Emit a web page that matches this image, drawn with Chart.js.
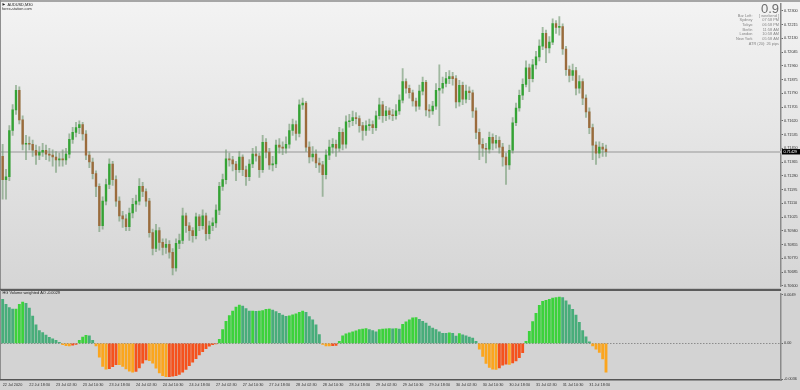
<!DOCTYPE html>
<html><head><meta charset="utf-8">
<script src="https://cdn.jsdelivr.net/npm/chart.js@4.4.1/dist/chart.umd.min.js"></script>
<style>
html,body{margin:0;padding:0;background:#d3d3d3;width:800px;height:390px;overflow:hidden}
#main{position:absolute;left:0;top:0}
#ind{position:absolute;left:0;top:290px}
</style></head><body>
<canvas id="main" width="800" height="290"></canvas>
<canvas id="ind" width="800" height="100"></canvas>
<script>
const symbolTitle = 'AUDUSD,M30';
const brandText = 'forex-station.com';
const indicatorTitle = 'HG Volume weighted AO -0.0029';
const infoBig = '0.9';
const infoRows = [['Bar Left:','[ weekend ]'],['Sydney','07:58 PM'],['Tokyo','06:58 PM'],['Berlin','11:58 AM'],['London','10:58 AM'],['New York','05:58 AM']];
const atrText = 'ATR (20): 26 pips';

const xTickLabels = ['22 Jul 2020','22 Jul 18:30','23 Jul 02:30','23 Jul 10:30','23 Jul 18:30','24 Jul 02:30','24 Jul 10:30','24 Jul 18:30','27 Jul 02:30','27 Jul 10:30','27 Jul 18:30','28 Jul 02:30','28 Jul 10:30','28 Jul 18:30','29 Jul 02:30','29 Jul 10:30','29 Jul 18:30','30 Jul 02:30','30 Jul 10:30','30 Jul 18:30','31 Jul 02:30','31 Jul 10:30','31 Jul 18:30'];
const barsPerLabel = 8;
const totalSlots = 234;

const opens = [0.71400,0.71256,0.71274,0.71560,0.71687,0.71809,0.71626,0.71475,0.71481,0.71475,
0.71438,0.71408,0.71426,0.71438,0.71414,0.71408,0.71396,0.71378,0.71384,0.71378,
0.71414,0.71505,0.71548,0.71578,0.71596,0.71538,0.71408,0.71365,0.71293,0.71214,
0.70971,0.71123,0.71226,0.71353,0.71256,0.71123,0.71032,0.71013,0.70965,0.71050,
0.71104,0.71123,0.71214,0.71183,0.71123,0.70928,0.70831,0.70941,0.70868,0.70837,
0.70856,0.70807,0.70710,0.70862,0.70880,0.71032,0.70971,0.70941,0.70910,0.71026,
0.70971,0.71032,0.70922,0.70971,0.70989,0.71068,0.71214,0.71256,0.71384,0.71378,
0.71353,0.71317,0.71396,0.71317,0.71274,0.71353,0.71414,0.71402,0.71317,0.71487,
0.71426,0.71347,0.71353,0.71469,0.71457,0.71450,0.71475,0.71560,0.71596,0.71542,
0.71718,0.71730,0.71457,0.71396,0.71414,0.71359,0.71347,0.71287,0.71408,0.71457,
0.71475,0.71450,0.71548,0.71475,0.71614,0.71620,0.71639,0.71633,0.71590,0.71560,
0.71590,0.71596,0.71578,0.71651,0.71718,0.71651,0.71681,0.71657,0.71651,0.71681,
0.71748,0.71863,0.71821,0.71793,0.71742,0.71711,0.71803,0.71857,0.71687,0.71681,
0.71711,0.71809,0.71821,0.71851,0.71881,0.71894,0.71881,0.71736,0.71839,0.71754,
0.71803,0.71793,0.71681,0.71548,0.71475,0.71450,0.71444,0.71517,0.71481,0.71499,
0.71457,0.71396,0.71347,0.71438,0.71608,0.71699,0.71778,0.71845,0.71948,0.71881,
0.71966,0.72015,0.72082,0.72161,0.72070,0.72106,0.72221,0.72197,0.72203,0.72064,
0.71936,0.71900,0.71930,0.71821,0.71863,0.71760,0.71675,0.71578,0.71469,0.71420,
0.71457,0.71445];

const highs = [0.71475,0.71320,0.71590,0.71720,0.71839,0.71830,0.71650,0.71530,0.71520,0.71500,
0.71470,0.71460,0.71480,0.71470,0.71450,0.71440,0.71430,0.71420,0.71440,0.71450,
0.71540,0.71580,0.71610,0.71620,0.71610,0.71560,0.71430,0.71390,0.71310,0.71230,
0.71150,0.71260,0.71384,0.71370,0.71280,0.71150,0.71060,0.71040,0.71080,0.71140,
0.71160,0.71262,0.71240,0.71200,0.71140,0.70950,0.70980,0.70960,0.70890,0.70890,
0.70880,0.70830,0.70890,0.70920,0.71080,0.71050,0.70990,0.70960,0.71050,0.71040,
0.71070,0.71050,0.71000,0.71020,0.71100,0.71240,0.71290,0.71440,0.71420,0.71400,
0.71370,0.71430,0.71410,0.71340,0.71380,0.71450,0.71460,0.71420,0.71530,0.71510,
0.71450,0.71400,0.71500,0.71510,0.71490,0.71520,0.71600,0.71630,0.71620,0.71750,
0.71760,0.71740,0.71490,0.71460,0.71440,0.71390,0.71370,0.71440,0.71500,0.71510,
0.71500,0.71580,0.71570,0.71650,0.71660,0.71680,0.71670,0.71650,0.71610,0.71620,
0.71630,0.71620,0.71680,0.71760,0.71740,0.71710,0.71700,0.71690,0.71720,0.71780,
0.71942,0.71880,0.71840,0.71810,0.71760,0.71840,0.71890,0.71870,0.71720,0.71740,
0.71850,0.71966,0.71890,0.71920,0.71930,0.71920,0.71900,0.71870,0.71860,0.71840,
0.71830,0.71810,0.71700,0.71570,0.71510,0.71480,0.71550,0.71540,0.71530,0.71520,
0.71480,0.71420,0.71470,0.71640,0.71730,0.71810,0.71880,0.71990,0.71970,0.72000,
0.72050,0.72120,0.72197,0.72180,0.72140,0.72250,0.72240,0.72264,0.72220,0.72080,
0.71960,0.71970,0.71950,0.71900,0.71880,0.71780,0.71700,0.71600,0.71490,0.71490,
0.71480,0.71470];

const lows = [0.71135,0.71135,0.71250,0.71530,0.71660,0.71600,0.71440,0.71380,0.71440,0.71400,
0.71350,0.71380,0.71400,0.71380,0.71370,0.71340,0.71300,0.71340,0.71340,0.71350,
0.71390,0.71480,0.71520,0.71540,0.71500,0.71380,0.71330,0.71260,0.71150,0.70934,
0.70950,0.71100,0.71200,0.71220,0.71090,0.71000,0.70960,0.70940,0.70940,0.71020,
0.71060,0.71100,0.71150,0.71090,0.70900,0.70790,0.70810,0.70820,0.70790,0.70800,
0.70770,0.70667,0.70690,0.70830,0.70860,0.70930,0.70880,0.70870,0.70890,0.70940,
0.70950,0.70880,0.70890,0.70940,0.70960,0.71040,0.71190,0.71230,0.71340,0.71310,
0.71250,0.71300,0.71280,0.71220,0.71250,0.71330,0.71370,0.71270,0.71300,0.71390,
0.71320,0.71310,0.71330,0.71420,0.71410,0.71420,0.71450,0.71530,0.71500,0.71520,
0.71690,0.71430,0.71360,0.71370,0.71330,0.71300,0.71153,0.71260,0.71380,0.71420,
0.71400,0.71430,0.71440,0.71450,0.71580,0.71590,0.71600,0.71550,0.71500,0.71530,
0.71560,0.71540,0.71560,0.71630,0.71610,0.71620,0.71630,0.71620,0.71630,0.71660,
0.71730,0.71790,0.71760,0.71710,0.71680,0.71690,0.71780,0.71650,0.71640,0.71660,
0.71690,0.71590,0.71790,0.71830,0.71850,0.71840,0.71700,0.71710,0.71720,0.71730,
0.71750,0.71640,0.71510,0.71380,0.71400,0.71360,0.71420,0.71440,0.71450,0.71420,
0.71340,0.71226,0.71320,0.71420,0.71590,0.71680,0.71750,0.71830,0.71800,0.71860,
0.71940,0.71990,0.72060,0.71980,0.72040,0.72090,0.72160,0.72150,0.72030,0.71900,
0.71860,0.71870,0.71780,0.71790,0.71720,0.71640,0.71540,0.71380,0.71350,0.71390,
0.71400,0.71400];

const closes = [0.71256,0.71274,0.71560,0.71687,0.71809,0.71626,0.71475,0.71481,0.71475,0.71438,
0.71408,0.71426,0.71438,0.71414,0.71408,0.71396,0.71378,0.71384,0.71378,0.71414,
0.71505,0.71548,0.71578,0.71596,0.71538,0.71408,0.71365,0.71293,0.71214,0.70971,
0.71123,0.71226,0.71353,0.71256,0.71123,0.71032,0.71013,0.70965,0.71050,0.71104,
0.71123,0.71214,0.71183,0.71123,0.70928,0.70831,0.70941,0.70868,0.70837,0.70856,
0.70807,0.70710,0.70862,0.70880,0.71032,0.70971,0.70941,0.70910,0.71026,0.70971,
0.71032,0.70922,0.70971,0.70989,0.71068,0.71214,0.71256,0.71384,0.71378,0.71353,
0.71317,0.71396,0.71317,0.71274,0.71353,0.71414,0.71402,0.71317,0.71487,0.71426,
0.71347,0.71353,0.71469,0.71457,0.71450,0.71475,0.71560,0.71596,0.71542,0.71718,
0.71730,0.71457,0.71396,0.71414,0.71359,0.71347,0.71287,0.71408,0.71457,0.71475,
0.71450,0.71548,0.71475,0.71614,0.71620,0.71639,0.71633,0.71590,0.71560,0.71590,
0.71596,0.71578,0.71651,0.71718,0.71651,0.71681,0.71657,0.71651,0.71681,0.71748,
0.71863,0.71821,0.71793,0.71742,0.71711,0.71803,0.71857,0.71687,0.71681,0.71711,
0.71809,0.71821,0.71851,0.71881,0.71894,0.71881,0.71736,0.71839,0.71754,0.71803,
0.71793,0.71681,0.71548,0.71475,0.71450,0.71444,0.71517,0.71481,0.71499,0.71457,
0.71396,0.71347,0.71438,0.71608,0.71699,0.71778,0.71845,0.71948,0.71881,0.71966,
0.72015,0.72082,0.72161,0.72070,0.72106,0.72221,0.72197,0.72203,0.72064,0.71936,
0.71900,0.71930,0.71821,0.71863,0.71760,0.71675,0.71578,0.71469,0.71420,0.71457,
0.71445,0.71429];

const aoValues = [0.00441,0.00392,0.00360,0.00343,0.00343,0.00392,0.00415,0.00402,0.00353,0.00274,
0.00186,0.00127,0.00108,0.00083,0.00059,0.00044,0.00029,0.00010,-0.00015,-0.00025,
-0.00026,-0.00020,-0.00010,0.00029,0.00062,0.00081,0.00074,0.00029,-0.00026,-0.00140,
-0.00232,-0.00260,-0.00255,-0.00235,-0.00214,-0.00216,-0.00233,-0.00258,-0.00279,-0.00291,
-0.00282,-0.00247,-0.00201,-0.00168,-0.00175,-0.00201,-0.00250,-0.00297,-0.00326,-0.00336,
-0.00335,-0.00331,-0.00326,-0.00314,-0.00291,-0.00262,-0.00225,-0.00189,-0.00154,-0.00118,
-0.00084,-0.00055,-0.00030,-0.00015,-0.00005,0.00039,0.00137,0.00221,0.00279,0.00325,
0.00363,0.00384,0.00375,0.00350,0.00323,0.00324,0.00322,0.00325,0.00330,0.00341,
0.00345,0.00333,0.00319,0.00302,0.00284,0.00272,0.00276,0.00287,0.00296,0.00312,
0.00323,0.00311,0.00268,0.00235,0.00186,0.00088,-0.00010,-0.00026,-0.00027,-0.00025,
-0.00022,0.00020,0.00074,0.00094,0.00105,0.00116,0.00125,0.00137,0.00144,0.00147,
0.00139,0.00127,0.00115,0.00137,0.00142,0.00145,0.00147,0.00146,0.00147,0.00144,
0.00191,0.00216,0.00235,0.00255,0.00258,0.00240,0.00221,0.00203,0.00174,0.00152,
0.00137,0.00116,0.00101,0.00100,0.00105,0.00100,0.00072,0.00098,0.00084,0.00074,
0.00062,0.00053,0.00020,-0.00059,-0.00132,-0.00203,-0.00243,-0.00260,-0.00263,-0.00247,
-0.00219,-0.00209,-0.00212,-0.00197,-0.00176,-0.00144,-0.00093,0.00020,0.00121,0.00219,
0.00301,0.00382,0.00421,0.00433,0.00443,0.00454,0.00461,0.00466,0.00459,0.00428,
0.00387,0.00341,0.00284,0.00211,0.00127,0.00064,0.00015,-0.00026,-0.00059,-0.00091,
-0.00157,-0.00290];

const priceTicks = [0.72300,0.72215,0.72130,0.72045,0.71960,0.71875,0.71790,0.71705,0.71620,0.71535,0.71450,0.71365,0.71280,0.71195,0.71110,0.71025,0.70940,0.70855,0.70770,0.70685,0.70600];
const priceRange = [0.70594, 0.72342];
const aoTicks = [0.0049, 0, -0.0036];
const aoTickLabels = ['0.0049', '0.00', '-0.0036'];
const aoRange = [-0.00369, 0.00503];
const bidPrice = 0.71429;
const askPrice = 0.71433;

const FONT = "'Liberation Sans', Arial, sans-serif";
const small = {family: FONT, size: 3.8};
const slotLabels = Array.from({length: totalSlots}, (_, i) =>
  (i % barsPerLabel === 0 && xTickLabels[i / barsPerLabel]) ? xTickLabels[i / barsPerLabel] : '');

function txt(ctx, s, x, y, size, color, align, weight) {
  ctx.font = (weight || 'normal') + ' ' + size + 'px ' + FONT;
  ctx.fillStyle = color; ctx.textAlign = align || 'left'; ctx.textBaseline = 'middle';
  ctx.fillText(s, x, y);
}

const mainDeco = {
  id: 'mainDeco',
  beforeDraw(chart) {
    const {ctx, width, height} = chart;
    ctx.save();
    const g = ctx.createLinearGradient(0, 0, 0, height);
    g.addColorStop(0, '#f3f3f3'); g.addColorStop(1, '#d5d5d5');
    ctx.fillStyle = g; ctx.fillRect(0, 0, width, height);
    ctx.fillStyle = '#a6a6a6'; ctx.fillRect(0, 0, width, 2);
    ctx.fillStyle = '#8e8e8e'; ctx.fillRect(0, 0, 1, height);
    ctx.restore();
  },
  beforeDatasetsDraw(chart) {
    const y = chart.scales.y, a = chart.chartArea, ctx = chart.ctx;
    ctx.save(); ctx.strokeStyle = '#bdbdbd'; ctx.lineWidth = 1;
    [bidPrice, askPrice].forEach(p => {
      const py = Math.round(y.getPixelForValue(p)) + 0.5;
      ctx.beginPath(); ctx.moveTo(a.left, py); ctx.lineTo(a.right, py); ctx.stroke();
    });
    ctx.restore();
  },
  afterDraw(chart) {
    const {ctx, height, chartArea: a} = chart;
    const y = chart.scales.y;
    ctx.save();
    const py = y.getPixelForValue(bidPrice);
    ctx.fillStyle = '#000'; ctx.fillRect(a.right + 1, py - 2.6, 18, 5.4);
    txt(ctx, bidPrice.toFixed(5), a.right + 2.5, py + 0.2, 3.8, '#fff', 'left');
    ctx.fillStyle = '#5b5b5b'; ctx.fillRect(0, height - 1.2, a.right, 1.2);
    ctx.fillStyle = '#222';
    ctx.beginPath(); ctx.moveTo(2.5, 3); ctx.lineTo(5.2, 4.4); ctx.lineTo(2.5, 5.8); ctx.closePath(); ctx.fill();
    txt(ctx, symbolTitle, 7.5, 4.5, 3.9, '#222', 'left');
    txt(ctx, brandText, 2, 8.6, 3.9, '#333', 'left');
    ctx.font = 'normal 13px ' + FONT; ctx.fillStyle = '#6e6e6e'; ctx.textAlign = 'right'; ctx.textBaseline = 'alphabetic';
    ctx.fillText(infoBig, 779, 13);
    const rowsY = [15.8, 20.4, 25.0, 29.5, 34.1, 38.7];
    infoRows.forEach((r, i) => {
      txt(ctx, r[0], 752.5, rowsY[i], 3.9, '#858585', 'right');
      txt(ctx, r[1], 779, rowsY[i], 3.9, '#858585', 'right');
    });
    txt(ctx, atrText, 779, 43.6, 3.9, '#858585', 'right');
    ctx.restore();
  }
};

new Chart(document.getElementById('main'), {
  type: 'bar',
  data: {
    labels: slotLabels,
    datasets: [
      {label: 'body', data: opens.map((o, i) => [o, closes[i]]),
       backgroundColor: opens.map((o, i) => closes[i] >= o ? '#34a334' : '#9b6b3c'),
       barThickness: 1.7, minBarLength: 1, grouped: false},
      {label: 'wick', data: lows.map((l, i) => [l, highs[i]]),
       backgroundColor: 'rgba(110,150,110,0.6)', barThickness: 1.2, grouped: false}
    ]
  },
  options: {
    responsive: false, animation: false, events: [],
    layout: {padding: {top: 4, left: 1, right: 0, bottom: 0}},
    plugins: {legend: {display: false}, tooltip: {enabled: false}},
    scales: {
      x: {display: false},
      y: {position: 'right', min: priceRange[0], max: priceRange[1],
          afterFit: s => { s.width = 19; },
          afterBuildTicks: s => { s.ticks = priceTicks.map(v => ({value: v})); },
          ticks: {autoSkip: false, font: small, color: '#333', padding: 1, callback: v => Number(v).toFixed(5)},
          grid: {drawOnChartArea: false, tickLength: 2, color: '#666'},
          border: {display: true, color: '#8a8a8a', width: 1.5}}
    }
  },
  plugins: [mainDeco]
});

const aoColors = aoValues.map((v, i) => {
  const p = i > 0 ? aoValues[i - 1] : aoValues[0] + (aoValues[0] - aoValues[1]);
  if (v >= 0) return v >= p ? '#3cd23c' : '#48ad7a';
  return v < p ? '#fba51e' : '#f5521c';
});

const indDeco = {
  id: 'indDeco',
  beforeDraw(chart) {
    const {ctx, width, height, chartArea: a} = chart;
    ctx.save();
    ctx.fillStyle = '#d3d3d3'; ctx.fillRect(0, 0, width, height);
    ctx.fillStyle = '#5b5b5b'; ctx.fillRect(0, 0, a.right, 1);
    ctx.fillStyle = '#8e8e8e'; ctx.fillRect(0, 0, 1, a.bottom);
    ctx.restore();
  },
  beforeDatasetsDraw(chart) {
    const {ctx, chartArea: a} = chart;
    const zy = Math.round(chart.scales.y.getPixelForValue(0)) + 0.5;
    ctx.save(); ctx.strokeStyle = '#8c8c8c'; ctx.lineWidth = 1; ctx.setLineDash([1.5, 1.5]);
    ctx.beginPath(); ctx.moveTo(a.left, zy); ctx.lineTo(a.right, zy); ctx.stroke();
    ctx.restore();
  },
  afterDraw(chart) {
    const ctx = chart.ctx;
    ctx.save();
    txt(ctx, indicatorTitle, 2.5, 3.4, 3.9, '#222', 'left');
    ctx.restore();
  }
};

new Chart(document.getElementById('ind'), {
  type: 'bar',
  data: {labels: slotLabels, datasets: [{data: aoValues, backgroundColor: aoColors, barThickness: 2.2, grouped: false}]},
  options: {
    responsive: false, animation: false, events: [],
    layout: {padding: {top: 1, left: 1, right: 0, bottom: 0}},
    plugins: {legend: {display: false}, tooltip: {enabled: false}},
    scales: {
      x: {afterFit: s => { s.height = 10; },
          grid: {display: false, drawTicks: false},
          border: {display: true, color: '#555', width: 1.5},
          ticks: {autoSkip: false, maxRotation: 0, minRotation: 0, align: 'start', font: small, color: '#333', padding: 2.5}},
      y: {position: 'right', min: aoRange[0], max: aoRange[1],
          afterFit: s => { s.width = 19; },
          afterBuildTicks: s => { s.ticks = aoTicks.map(v => ({value: v})); },
          ticks: {autoSkip: false, font: small, color: '#333', padding: 1, callback: (v, i) => aoTickLabels[i]},
          grid: {drawOnChartArea: false, tickLength: 2, color: '#666'},
          border: {display: true, color: '#8a8a8a', width: 1.5}}
    }
  },
  plugins: [indDeco]
});
</script></body></html>
